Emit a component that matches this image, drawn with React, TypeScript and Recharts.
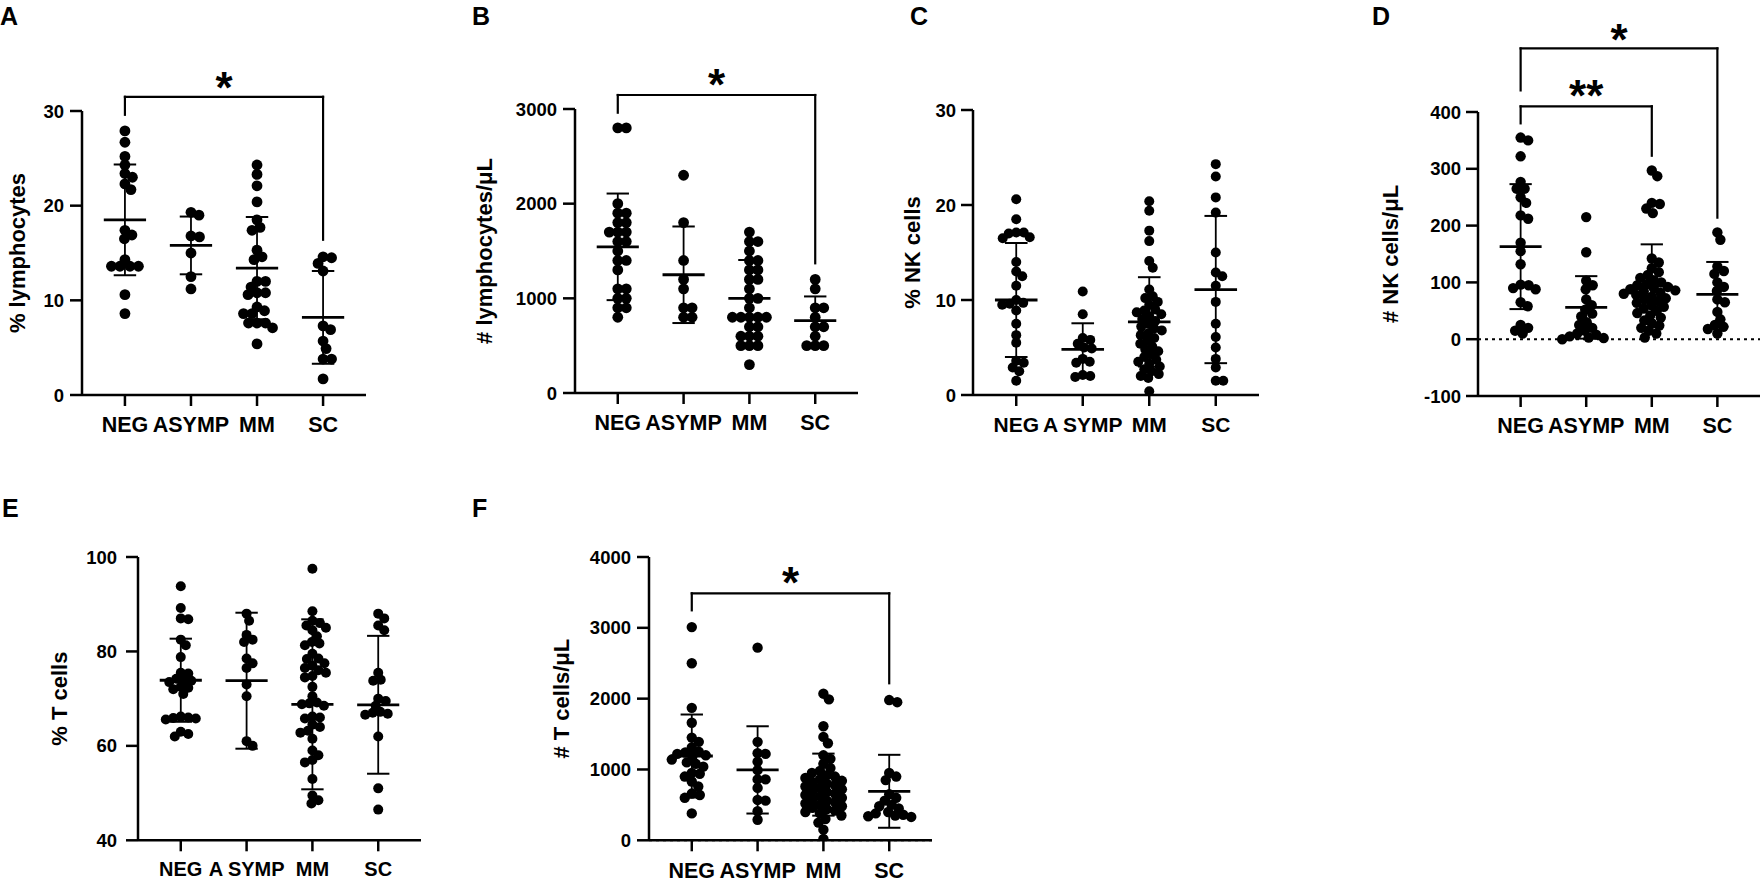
import React from 'react';
import { ScatterChart, Scatter, XAxis, YAxis, ReferenceLine, ReferenceDot } from 'recharts';

const FONT = '"Liberation Sans", Arial, Helvetica, sans-serif';

// ---------- categories ----------
const CATS = ['NEG', 'ASYMP', 'MM', 'SC'];
const CATS_SPACED = ['NEG', 'A SYMP', 'MM', 'SC'];

// ---------- A: % lymphocytes ----------
const aNEG = [27.9, 26.7, 25.2, 24.3, 23.4, 23.0, 22.3, 21.7, 17.4, 16.9, 16.5, 14.3, 13.6, 13.6, 13.6, 13.6, 10.6, 8.6];
const aASYMP = [19.3, 19.0, 16.8, 16.7, 15.0, 12.5, 11.2];
const aMM = [24.3, 23.3, 22.1, 20.4, 18.5, 17.7, 17.4, 15.3, 14.6, 14.3, 12.0, 12.0, 11.4, 10.8, 10.8, 10.6, 9.3, 8.9, 8.6, 8.6, 7.6, 7.6, 7.6, 7.1, 5.4];
const aSC = [14.6, 14.5, 13.9, 13.1, 7.3, 6.9, 5.7, 4.9, 3.8, 3.8, 1.7];
const aMean = [18.5, 15.8, 13.4, 8.2];
const aSD = [5.85, 3.05, 5.4, 4.9];
const aTicks = [0, 10, 20, 30];

// ---------- B: # lymphocytes/uL ----------
const bNEG = [2800, 2800, 2000, 1900, 1900, 1800, 1800, 1700, 1700, 1700, 1600, 1600, 1500, 1400, 1400, 1300, 1100, 1100, 1000, 1000, 900, 900, 800];
const bASYMP = [2300, 1800, 1400, 1200, 1100, 900, 900, 800, 800];
const bMM = [1700, 1600, 1600, 1500, 1400, 1400, 1300, 1300, 1200, 1200, 1100, 1000, 1000, 900, 800, 800, 800, 800, 800, 700, 700, 600, 600, 600, 500, 500, 500, 300];
const bSC = [1200, 1100, 900, 900, 800, 700, 700, 600, 500, 500, 500];
const bMean = [1544, 1249, 1000, 765];
const bSD = [563, 510, 405, 255];
const bTicks = [0, 1000, 2000, 3000];

// ---------- C: % NK cells ----------
const cNEG = [20.6, 18.5, 17.1, 17.1, 17.0, 16.6, 16.5, 14.0, 13.0, 12.5, 11.5, 10.0, 9.7, 9.6, 9.5, 8.9, 7.5, 6.3, 5.5, 3.6, 3.4, 2.9, 2.5, 1.5];
const cASYMP = [10.9, 8.5, 6.0, 5.8, 5.4, 5.0, 4.9, 3.8, 3.5, 3.4, 2.1, 2.0, 1.9];
const cMM = [20.4, 19.4, 17.3, 16.2, 14.1, 13.4, 11.1, 10.4, 10.2, 9.8, 9.5, 9.0, 8.9, 8.7, 8.5, 8.3, 8.0, 7.8, 7.5, 7.2, 7.0, 6.8, 6.5, 6.3, 6.0, 5.7, 5.4, 5.1, 4.8, 4.6, 4.3, 4.0, 3.7, 3.5, 3.3, 3.0, 2.7, 2.5, 2.2, 2.0, 1.8, 0.4];
const cSC = [24.3, 23.0, 20.8, 19.2, 15.0, 12.9, 12.5, 11.5, 9.8, 7.5, 6.1, 5.0, 3.8, 2.9, 1.5, 1.5];
const cMean = [10.0, 4.8, 7.7, 11.1];
const cSD = [6.0, 2.75, 4.7, 7.75];
const cTicks = [0, 10, 20, 30];

// ---------- D: # NK cells/uL ----------
const dNEG = [355, 350, 322, 277, 265, 265, 250, 240, 218, 212, 170, 155, 132, 96, 95, 90, 88, 65, 58, 25, 20, 15, 10];
const dASYMP = [215, 153, 103, 95, 88, 70, 60, 52, 45, 40, 30, 25, 20, 15, 10, 8, 5, 3, 2, 0];
const dMM = [297, 287, 240, 238, 230, 222, 142, 135, 125, 118, 113, 108, 104, 100, 97, 95, 92, 90, 88, 86, 84, 82, 80, 78, 75, 72, 70, 67, 64, 60, 57, 54, 50, 46, 42, 38, 33, 28, 24, 20, 15, 10, 3];
const dSC = [188, 175, 128, 120, 115, 100, 92, 85, 70, 65, 48, 35, 25, 22, 18, 10];
const dMean = [163, 56, 94, 79];
const dSD = [110, 55, 73, 57];
const dTicks = [-100, 0, 100, 200, 300, 400];

// ---------- E: % T cells ----------
const eNEG = [93.8, 89.2, 87.0, 86.8, 82.5, 81.3, 78.8, 75.5, 75.3, 74.2, 74.0, 73.8, 73.5, 72.5, 72.3, 72.0, 71.0, 66.2, 66.0, 65.9, 65.8, 65.6, 63.0, 62.5, 62.0];
const eASYMP = [88.0, 86.5, 83.5, 82.5, 82.0, 78.5, 77.5, 76.5, 73.0, 70.5, 61.0, 60.0];
const eMM = [97.5, 88.5, 86.5, 86.0, 85.5, 85.0, 84.5, 83.2, 82.0, 81.7, 81.3, 79.5, 78.5, 78.4, 77.5, 77.0, 76.5, 76.0, 75.5, 74.8, 74.5, 72.5, 70.5, 69.2, 69.0, 68.8, 68.5, 66.2, 66.0, 65.8, 64.5, 64.0, 63.2, 62.8, 61.5, 59.0, 58.0, 57.0, 56.5, 53.0, 49.5, 48.5, 47.8];
const eSC = [88.0, 87.0, 85.5, 84.5, 75.5, 74.0, 73.8, 70.0, 69.5, 68.5, 67.2, 67.0, 66.8, 66.6, 62.0, 51.0, 46.5];
const eMean = [73.9, 73.8, 68.8, 68.7];
const eSD = [8.8, 14.4, 18.0, 14.6];
const eTicks = [40, 60, 80, 100];

// ---------- F: # T cells/uL ----------
const fNEG = [3010, 2500, 1870, 1660, 1450, 1390, 1310, 1250, 1240, 1220, 1200, 1180, 1140, 1100, 1080, 1040, 950, 940, 900, 830, 760, 660, 640, 600, 380];
const fASYMP = [2720, 1390, 1230, 1220, 1110, 990, 860, 860, 740, 570, 560, 410, 290];
const fMM = [2070, 1990, 1610, 1460, 1370, 1200, 1150, 1080, 1020, 980, 950, 920, 900, 880, 860, 840, 820, 800, 780, 760, 740, 720, 700, 680, 660, 640, 620, 600, 580, 560, 540, 520, 500, 480, 460, 440, 420, 400, 380, 350, 300, 250, 150, 20];
const fSC = [1980, 1950, 950, 900, 850, 650, 600, 560, 500, 480, 450, 400, 380, 360, 350, 340, 330];
const fMean = [1190, 994, 786, 692];
const fSD = [586, 616, 438, 515];
const fTicks = [0, 1000, 2000, 3000, 4000];

// ---------- significance brackets (data units) ----------
type Bracket = { from: number; to: number; top: number; leftEnd: number; rightEnd: number; text: string; textY: number };
const aBrackets: Bracket[] = [{ from: 1, to: 4, top: 31.5, leftEnd: 29.6, rightEnd: 16.4, text: '*', textY: 33.5 }];
const bBrackets: Bracket[] = [{ from: 1, to: 4, top: 3148, leftEnd: 2961, rightEnd: 1370, text: '*', textY: 3360 }];
const dBrackets: Bracket[] = [
  { from: 1, to: 4, top: 512, leftEnd: 438, rightEnd: 214, text: '*', textY: 544 },
  { from: 1, to: 3, top: 410, leftEnd: 380, rightEnd: 323, text: '**', textY: 445 },
];
const fBrackets: Bracket[] = [{ from: 1, to: 4, top: 3487, leftEnd: 3247, rightEnd: 2217, text: '*', textY: 3766 }];

const X_MIN = 0.35;
const X_MAX = 4.65;

interface PanelCfg {
  letter: string;
  letterX: number;
  letterY: number;
  yLabel: string;
  yLabelOff: number;
  axisX: number;
  axisEnd: number;
  plotTop: number;
  plotBottom: number;
  domain: [number, number];
  ticks: number[];
  cats: string[];
  catFont: number;
  groups: number[][];
  means: number[];
  sds: number[];
  brackets: Bracket[];
  r: number;
  zeroLine: boolean;
  yTickMargin: number;
}

// simple beeswarm layout: horizontal pixel offsets so dots don't pile up
function swarmOffsets(values: number[], pxPerY: number, minD: number): number[] {
  const order = values.map((_, i) => i).sort((a, b) => values[b] - values[a]);
  const placed: { x: number; y: number }[] = [];
  const offs = new Array(values.length).fill(0);
  for (const i of order) {
    const y = values[i] * pxPerY;
    let best = 0;
    for (let k = 0; k < 400; k++) {
      const cand = k === 0 ? 0 : (k % 2 === 1 ? 1 : -1) * Math.ceil(k / 2) * 0.5;
      let ok = true;
      for (const p of placed) {
        const dx = p.x - cand;
        const dy = p.y - y;
        if (dx * dx + dy * dy < minD * minD) { ok = false; break; }
      }
      if (ok) { best = cand; break; }
    }
    placed.push({ x: best, y });
    offs[i] = best;
  }
  return offs;
}

const panels: PanelCfg[] = [
  { letter: 'A', letterX: 0, letterY: 25, yLabel: '% lymphocytes', yLabelOff: 65, axisX: 82, axisEnd: 366, plotTop: 111, plotBottom: 395, domain: [0, 30], ticks: aTicks, cats: CATS, catFont: 21.5, groups: [aNEG, aASYMP, aMM, aSC], means: aMean, sds: aSD, brackets: aBrackets, r: 5.4, zeroLine: false, yTickMargin: 6 },
  { letter: 'B', letterX: 472, letterY: 25, yLabel: '# lymphocytes/\u03bcL', yLabelOff: 91, axisX: 575, axisEnd: 858, plotTop: 109, plotBottom: 393, domain: [0, 3000], ticks: bTicks, cats: CATS, catFont: 21.5, groups: [bNEG, bASYMP, bMM, bSC], means: bMean, sds: bSD, brackets: bBrackets, r: 5.4, zeroLine: false, yTickMargin: 6 },
  { letter: 'C', letterX: 910, letterY: 25, yLabel: '% NK cells', yLabelOff: 61, axisX: 973, axisEnd: 1259, plotTop: 110, plotBottom: 395, domain: [0, 30], ticks: cTicks, cats: CATS_SPACED, catFont: 21, groups: [cNEG, cASYMP, cMM, cSC], means: cMean, sds: cSD, brackets: [], r: 5, zeroLine: false, yTickMargin: 5 },
  { letter: 'D', letterX: 1372, letterY: 25, yLabel: '# NK cells/\u03bcL', yLabelOff: 88, axisX: 1478, axisEnd: 1760, plotTop: 111.7, plotBottom: 395.7, domain: [-100, 400], ticks: dTicks, cats: CATS, catFont: 21.5, groups: [dNEG, dASYMP, dMM, dSC], means: dMean, sds: dSD, brackets: dBrackets, r: 5.2, zeroLine: true, yTickMargin: 5 },
  { letter: 'E', letterX: 2, letterY: 517, yLabel: '% T cells', yLabelOff: 78, axisX: 138, axisEnd: 421, plotTop: 556.7, plotBottom: 840, domain: [40, 100], ticks: eTicks, cats: CATS_SPACED, catFont: 20, groups: [eNEG, eASYMP, eMM, eSC], means: eMean, sds: eSD, brackets: [], r: 5, zeroLine: false, yTickMargin: 9 },
  { letter: 'F', letterX: 472, letterY: 517, yLabel: '# T cells/\u03bcL', yLabelOff: 87, axisX: 649, axisEnd: 932, plotTop: 556.7, plotBottom: 840, domain: [0, 4000], ticks: fTicks, cats: CATS, catFont: 21.5, groups: [fNEG, fASYMP, fMM, fSC], means: fMean, sds: fSD, brackets: fBrackets, r: 5.2, zeroLine: true, yTickMargin: 6 },
];

const STAR_FS = 44;

function Panel({ c }: { c: PanelCfg }) {
  const W = 110;
  const MT = 120;
  const MR = 10;
  const XH = 50;
  const MB = 4;
  const plotW = c.axisEnd - c.axisX;
  const plotH = c.plotBottom - c.plotTop;
  const width = W + plotW + MR;
  const height = MT + plotH + XH + MB;
  const pxPerX = plotW / (X_MAX - X_MIN);
  const pxPerY = plotH / (c.domain[1] - c.domain[0]);

  const points = c.groups.flatMap((vals, gi) => {
    const offs = swarmOffsets(vals, pxPerY, c.r * 1.5);
    return vals.map((v, i) => ({ x: gi + 1 + offs[i] / pxPerX, y: v }));
  });

  const lx = W - c.yLabelOff;
  const ly = MT + plotH / 2;

  const bars: React.ReactNode[] = [];
  c.means.forEach((m, gi) => {
    const x = gi + 1;
    const sd = c.sds[gi];
    bars.push(<ReferenceLine key={`v${gi}`} segment={[{ x, y: m - sd }, { x, y: m + sd }]} stroke="#000" strokeWidth={1.8} ifOverflow="visible" />);
    bars.push(<ReferenceLine key={`u${gi}`} segment={[{ x: x - 0.17, y: m + sd }, { x: x + 0.17, y: m + sd }]} stroke="#000" strokeWidth={2} ifOverflow="visible" />);
    bars.push(<ReferenceLine key={`l${gi}`} segment={[{ x: x - 0.17, y: m - sd }, { x: x + 0.17, y: m - sd }]} stroke="#000" strokeWidth={2} ifOverflow="visible" />);
    bars.push(<ReferenceLine key={`m${gi}`} segment={[{ x: x - 0.32, y: m }, { x: x + 0.32, y: m }]} stroke="#000" strokeWidth={2.8} ifOverflow="visible" />);
  });

  const brs: React.ReactNode[] = [];
  c.brackets.forEach((b, bi) => {
    brs.push(<ReferenceLine key={`bl${bi}`} segment={[{ x: b.from, y: b.leftEnd }, { x: b.from, y: b.top }]} stroke="#000" strokeWidth={2.2} strokeLinecap="square" ifOverflow="visible" />);
    brs.push(<ReferenceLine key={`bh${bi}`} segment={[{ x: b.from, y: b.top }, { x: b.to, y: b.top }]} stroke="#000" strokeWidth={2.2} strokeLinecap="square" ifOverflow="visible" />);
    brs.push(<ReferenceLine key={`br${bi}`} segment={[{ x: b.to, y: b.top }, { x: b.to, y: b.rightEnd }]} stroke="#000" strokeWidth={2.2} strokeLinecap="square" ifOverflow="visible" />);
    brs.push(
      <ReferenceDot
        key={`bt${bi}`}
        x={(b.from + b.to) / 2}
        y={b.textY}
        r={0}
        ifOverflow="visible"
        shape={(p: any) => (
          <text x={p.cx} y={p.cy + STAR_FS * 0.56} textAnchor="middle" fontSize={STAR_FS} fontWeight={700} fontFamily={FONT} fill="#000">
            {b.text}
          </text>
        )}
      />
    );
  });

  return (
    <div style={{ position: 'absolute', left: c.axisX - W, top: c.plotTop - MT }}>
      <ScatterChart width={width} height={height} margin={{ top: MT, right: MR, bottom: MB, left: 0 }}>
        <XAxis
          type="number"
          dataKey="x"
          domain={[X_MIN, X_MAX]}
          ticks={[1, 2, 3, 4]}
          interval={0}
          allowDataOverflow
          tickFormatter={(v: number) => c.cats[Math.round(v) - 1] ?? ''}
          height={XH}
          tickSize={11}
          tickMargin={11}
          axisLine={{ stroke: '#000', strokeWidth: 2.5 }}
          tickLine={{ stroke: '#000', strokeWidth: 2.5 }}
          tick={{ fill: '#000', fontSize: c.catFont, fontWeight: 700, fontFamily: FONT }}
        />
        <YAxis
          type="number"
          dataKey="y"
          domain={c.domain}
          ticks={c.ticks}
          interval={0}
          allowDataOverflow
          width={W}
          tickSize={12}
          tickMargin={c.yTickMargin}
          axisLine={{ stroke: '#000', strokeWidth: 2.5 }}
          tickLine={{ stroke: '#000', strokeWidth: 2.5 }}
          tick={{ fill: '#000', fontSize: 18.5, fontWeight: 700, fontFamily: FONT }}
          label={{
            content: () => (
              <text
                x={lx}
                y={ly}
                transform={`rotate(-90 ${lx} ${ly})`}
                textAnchor="middle"
                dominantBaseline="central"
                fontSize={22}
                fontWeight={700}
                fontFamily={FONT}
                fill="#000"
              >
                {c.yLabel}
              </text>
            ),
          }}
        />
        {c.zeroLine && <ReferenceLine y={0} stroke="#000" strokeWidth={2} strokeDasharray="3 4" />}
        <Scatter
          data={points}
          dataKey="y"
          isAnimationActive={false}
          shape={(p: any) => <circle cx={p.cx} cy={p.cy} r={c.r} fill="#000" />}
        />
        {bars}
        {brs}
      </ScatterChart>
    </div>
  );
}

export default function App() {
  return (
    <div style={{ position: 'absolute', left: 0, top: 0, width: 1762, height: 882, background: '#fff', overflow: 'hidden' }}>
      {panels.map((c) => (
        <Panel key={c.letter} c={c} />
      ))}
      <svg width={1762} height={882} style={{ position: 'absolute', left: 0, top: 0, pointerEvents: 'none' }}>
        {panels.map((c) => (
          <text key={c.letter} x={c.letterX} y={c.letterY} fontSize={25} fontWeight={700} fontFamily={FONT} fill="#000">
            {c.letter}
          </text>
        ))}
      </svg>
    </div>
  );
}
